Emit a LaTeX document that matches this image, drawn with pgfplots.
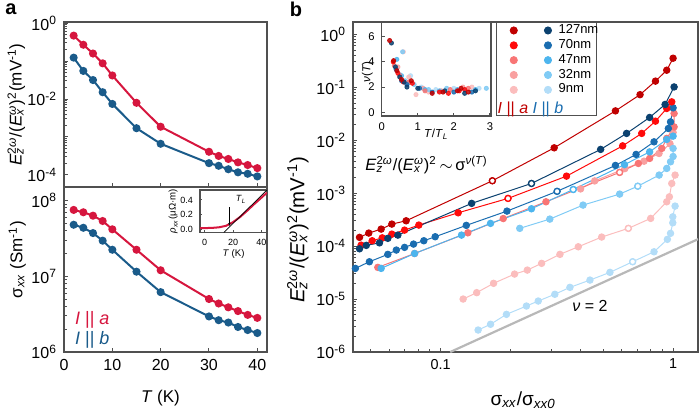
\documentclass[border=0pt]{standalone}
\usepackage{pgfplots}
\pgfplotsset{compat=1.18}
\usepackage{fontspec}
\setmainfont{Liberation Sans}
\usetikzlibrary{arrows.meta}

\definecolor{aRed}{HTML}{D6163E}
\definecolor{aBlue}{HTML}{1A5B8A}
\definecolor{rA}{HTML}{C00000}
\definecolor{rB}{HTML}{FF0A0A}
\definecolor{rC}{HTML}{F87575}
\definecolor{rD}{HTML}{F9A0A0}
\definecolor{rE}{HTML}{FBBDBD}
\definecolor{bA}{HTML}{0B416F}
\definecolor{bB}{HTML}{1A6DB0}
\definecolor{bC}{HTML}{4DB5EE}
\definecolor{bD}{HTML}{80CBF5}
\definecolor{bE}{HTML}{B3DDF8}
\definecolor{frm}{HTML}{505050}

\newcommand\fs[1]{\fontsize{#1}{#1}\selectfont}
% superscript stacked over subscript
\newcommand\supsub[2]{\setbox0=\hbox{\textsuperscript{#1}}\setbox2=\hbox{\textsubscript{#2}}%
 \ifdim\wd0>\wd2 \rlap{\box2}\box0\else\rlap{\box0}\box2\fi}

\pgfplotsset{
 base/.style={scale only axis, anchor=south west,
  axis line style={frm, line width=0.6pt},
  tick style={frm, line width=0.5pt},
  major tick length=2.2pt, minor tick length=1.4pt,
  tick align=inside, tick pos=left,
  tick label style={font=\fs{8}},
  label style={font=\fs{8.5}},
  /pgf/number format/assume math mode=true},
 pa/.style={line width=1pt, mark=*, mark size=1.5pt},
 pb/.style={line width=0.5pt, mark=*, mark size=1.6pt},
 ob/.style={only marks, mark=*, mark size=1.45pt, mark options={fill=white, draw=#1, line width=0.6pt}},
 sc/.style={only marks, mark=*, mark size=1.05pt, opacity=0.85, color=#1},
}

\begin{document}
\begin{tikzpicture}[x=1pt,y=1pt]
\useasboundingbox (0,0) rectangle (350,206);
\node[font=\bfseries\fs{10}] at (5.5,201.5) {a};
\node[font=\bfseries\fs{10}] at (148,201.5) {b};

% ---- panel a, top
\begin{axis}[base, at={(32pt,112.5pt)}, width=101.5pt, height=82.5pt,
 ymode=log, xmin=0, xmax=42, ymin=4.8e-5, ymax=1.07,
 xtick={10,20,30,40}, xticklabels={},
 ytick={1e-4,1e-3,1e-2,1e-1,1},
 yticklabels={10\textsuperscript{-4},,10\textsuperscript{-2},,10\textsuperscript{0}},
 ylabel={\textit{E}\supsub{2\textit{ω}}{\textit{z}}/(\textit{E}\supsub{\textit{ω}}{\textit{x}})\textsuperscript{2}(mV\textsuperscript{-1})},
 ylabel style={at={(axis description cs:-0.235,0.5)}, anchor=center}]
\addplot[pa, color=aRed] coordinates {(2,0.468) (4,0.269) (6,0.158) (8,0.0871) (10,0.0417) (15,0.00794) (20,0.00186) (30,0.000407) (32,0.000316) (34,0.000263) (36,0.000214) (38,0.000182) (40,0.000151)};
\addplot[pa, color=aBlue] coordinates {(2,0.123) (4,0.055) (6,0.0316) (8,0.0151) (10,0.00741) (15,0.0017) (20,0.000661) (30,0.000204) (32,0.000174) (34,0.000141) (36,0.000117) (38,0.000107) (40,0.0000912)};
\end{axis}

% ---- panel a, bottom
\begin{axis}[base, at={(32pt,30pt)}, width=101.5pt, height=82.5pt,
 ymode=log, xmin=0, xmax=42, ymin=1e6, ymax=1.51e8,
 xtick={0,10,20,30,40},
 ytick={1e6,1e7,1e8},
 yticklabels={10\textsuperscript{6},10\textsuperscript{7},10\textsuperscript{8}},
 xlabel={\textit{T} (K)},
 xlabel style={at={(axis description cs:0.475,-0.28)}, anchor=center},
 ylabel={σ\textsubscript{\textit{xx}} (Sm\textsuperscript{-1})},
 ylabel style={at={(axis description cs:-0.23,0.56)}, anchor=center}]
\addplot[pa, color=aRed] coordinates {(2,7.52e7) (4,7.0e7) (6,6.31e7) (8,5.37e7) (10,4.17e7) (15,2.24e7) (20,1.20e7) (30,5.01e6) (32,4.37e6) (34,3.89e6) (36,3.47e6) (38,3.09e6) (40,2.82e6)};
\addplot[pa, color=aBlue] coordinates {(2,4.79e7) (4,4.37e7) (6,3.72e7) (8,2.95e7) (10,2.24e7) (15,1.15e7) (20,6.17e6) (30,2.95e6) (32,2.63e6) (34,2.45e6) (36,2.14e6) (38,1.95e6) (40,1.78e6)};
\node[anchor=west, font=\fs{9}, color=aRed] at (axis description cs:0.02,0.194) {\textit{I} || \textit{a}};
\node[anchor=west, font=\fs{9}, color=aBlue] at (axis description cs:0.02,0.073) {\textit{I} || \textit{b}};
\end{axis}

% ---- panel a, inset
\begin{axis}[base, at={(100pt,89.75pt)}, width=33.5pt, height=21.25pt,
 axis background/.style={fill=white},
 xmin=-3.3, xmax=44, ymin=-0.04, ymax=0.535,
 major tick length=1.2pt,
 xtick={0,20,40}, ytick={0,0.2,0.4}, yticklabels={0.0,0.2,0.4},
 tick label style={font=\fs{4.5}},
 label style={font=\fs{4.8}},
 xlabel={\textit{T} (K)}, ylabel={\textit{ρ}\textsubscript{\textit{xx}}(μΩ·m)},
 xlabel style={at={(axis description cs:0.5,-0.5)}, anchor=center},
 ylabel style={at={(axis description cs:-0.4,0.5)}, anchor=center}]
\addplot[color=aRed, line width=1pt, no marks] coordinates {(-3.3,0.02) (0,0.02) (5,0.022) (10,0.03) (15,0.05) (20,0.1) (25,0.17) (30,0.255) (35,0.345) (40,0.43) (44,0.5)};
\addplot[color=black, line width=0.35pt, no marks] coordinates {(13.5,-0.04) (44,0.535)};
\draw[-{Stealth[length=1.4pt,width=1.2pt]}, line width=0.3pt] (axis cs:17.5,0.30) -- (axis cs:17.5,0.05);
\node[font=\fs{4.5}, anchor=west] at (axis cs:17,0.41) {\textit{T}\textsubscript{\textit{L}}};
\end{axis}

% ---- panel b
\begin{axis}[base, at={(176.5pt,30pt)}, width=172.5pt, height=165pt,
 xmode=log, ymode=log, xmin=0.042, xmax=1.28, ymin=1e-6, ymax=1.7,
 xtick={0.1,1}, xticklabels={0.1,1},
 minor xtick={0.05,0.06,0.07,0.08,0.09,0.2,0.3,0.4,0.5,0.6,0.7,0.8,0.9},
 xticklabel style={font=\fs{7.2}},
 ytick={1e-6,1e-5,1e-4,1e-3,1e-2,1e-1,1},
 yticklabels={10\textsuperscript{-6},10\textsuperscript{-5},10\textsuperscript{-4},10\textsuperscript{-3},10\textsuperscript{-2},10\textsuperscript{-1},10\textsuperscript{0}},
 xlabel={σ\textsubscript{\textit{xx}}/σ\textsubscript{\textit{xx0}}},
 xlabel style={at={(axis description cs:0.493,-0.145)}, anchor=center, font=\fs{9.5}},
 ylabel={\textit{E}\supsub{2\textit{ω}}{\textit{z}}/(\textit{E}\supsub{\textit{ω}}{\textit{x}})\textsuperscript{2}(mV\textsuperscript{-1})},
 ylabel style={at={(axis description cs:-0.16,0.37)}, anchor=center, font=\fs{10.2}},
 legend columns=2,
 legend style={at={(axis description cs:0.437,1.012)}, anchor=north west, draw=none, fill=none,
  font=\fs{6.5}, row sep=-0.6pt, nodes={inner sep=1pt},
  /tikz/every even column/.append style={column sep=9pt},
  /tikz/every odd column/.append style={column sep=2.5pt}},
 legend image code/.code={\draw[mark repeat=2,mark phase=2,#1] plot coordinates {(0pt,0pt) (3pt,0pt) (6pt,0pt)};},
 legend cell align=left]
\addlegendimage{only marks, mark=*, mark size=1.8pt, color=rA}\addlegendentry{\mbox{}}
\addlegendimage{only marks, mark=*, mark size=1.8pt, color=bA}\addlegendentry{127nm}
\addlegendimage{only marks, mark=*, mark size=1.8pt, color=rB}\addlegendentry{\mbox{}}
\addlegendimage{only marks, mark=*, mark size=1.8pt, color=bB}\addlegendentry{70nm}
\addlegendimage{only marks, mark=*, mark size=1.8pt, color=rC}\addlegendentry{\mbox{}}
\addlegendimage{only marks, mark=*, mark size=1.8pt, color=bC}\addlegendentry{47nm}
\addlegendimage{only marks, mark=*, mark size=1.8pt, color=rD}\addlegendentry{\mbox{}}
\addlegendimage{only marks, mark=*, mark size=1.8pt, color=bD}\addlegendentry{32nm}
\addlegendimage{only marks, mark=*, mark size=1.8pt, color=rE}\addlegendentry{\mbox{}}
\addlegendimage{only marks, mark=*, mark size=1.8pt, color=bE}\addlegendentry{9nm}

% nu = 2 guide
\addplot[color=black!28, line width=1.1pt, no marks] coordinates {(0.110,1e-6) (1.28,1.35e-4)};

% 9 nm
\addplot[pb, color=rE] coordinates {(0.125,1.0e-5) (0.143,1.32e-5) (0.169,1.98e-5) (0.208,2.96e-5) (0.236,3.52e-5) (0.272,4.72e-5) (0.326,6.97e-5) (0.391,9.7e-5) (0.493,1.48e-4) (0.642,2.16e-4) (0.801,3.33e-4) (0.939,6.86e-4) (0.964,8.51e-4) (0.987,1.52e-3) (1.02,2.19e-3)};
\addplot[ob=rE] coordinates {(0.642,2.16e-4)};
\addplot[pb, color=bE] coordinates {(0.145,2.6e-6) (0.164,3.34e-6) (0.192,5.14e-6) (0.234,7.38e-6) (0.263,9.17e-6) (0.310,1.23e-5) (0.360,1.66e-5) (0.439,2.28e-5) (0.535,3.19e-5) (0.670,5.06e-5) (0.828,7.8e-5) (0.945,1.34e-4) (0.975,1.74e-4) (0.997,2.75e-4) (0.997,3.57e-4) (1.02,5.69e-4)};
\addplot[ob=bE] coordinates {(0.670,5.06e-5)};
% 32 nm
\addplot[pb, color=rD] coordinates {(0.40,1.2e-3) (0.46,1.7e-3) (0.62,2.9e-3) (0.75,4.0e-3) (0.87,5.6e-3) (0.97,8.5e-3) (1.0,1.4e-2)};
\addplot[pb, color=bD] coordinates {(0.219,2.16e-4) (0.295,3.23e-4) (0.410,5.94e-4) (0.589,9.58e-4) (0.705,1.35e-3) (0.871,2.19e-3) (0.939,2.92e-3) (0.975,3.9e-3) (1.0,4.91e-3) (1.0,6.97e-3)};
\addplot[ob=bD] coordinates {(0.705,1.35e-3)};
% 47 nm
\addplot[pb, color=rC] coordinates {(0.0537,3.96e-5) (0.0773,7.24e-5) (0.131,1.78e-4) (0.186,3.31e-4) (0.284,6.86e-4) (0.589,2.46e-3) (0.709,3.63e-3) (0.793,4.52e-3) (0.894,6.97e-3) (0.939,1.08e-2) (1.01,1.78e-2) (1.01,3.19e-2)};
\addplot[ob=rC] coordinates {(0.589,2.46e-3)};
\addplot[pb, color=bC] coordinates {(0.0555,3.79e-5) (0.0773,7.24e-5) (0.123,1.61e-4) (0.164,2.68e-4) (0.246,5.06e-4) (0.372,1.17e-3) (0.618,3.45e-3) (0.793,6.01e-3) (0.939,1.03e-2) (1.0,1.19e-2)};
\addplot[ob=bC] coordinates {(0.372,1.17e-3)};
% 70 nm
\addplot[pb, color=bB] coordinates {(0.0430,3.79e-5) (0.0494,5.06e-5) (0.0593,6.97e-5) (0.0645,8.41e-5) (0.0700,9.45e-5) (0.0765,1.09e-4) (0.0847,1.26e-4) (0.0948,1.50e-4) (0.129,2.46e-4) (0.193,4.57e-4) (0.317,1.08e-3) (0.565,3.33e-3) (0.693,5.37e-3) (0.828,9.29e-3) (0.954,1.66e-2) (0.975,2.21e-2) (1.0,4.07e-2)};
\addplot[ob=bB] coordinates {(0.317,1.08e-3)};
\addplot[pb, color=rB] coordinates {(0.0455,1.04e-4) (0.0508,1.26e-4) (0.0561,1.43e-4) (0.0617,1.68e-4) (0.0700,2.0e-4) (0.0806,2.49e-4) (0.119,4.25e-4) (0.195,7.94e-4) (0.348,2.09e-3) (0.607,7.8e-3) (0.733,1.34e-2) (0.84,2.28e-2) (0.939,3.96e-2) (0.987,5.28e-2)};
\addplot[ob=rB] coordinates {(0.195,7.94e-4)};
% 127 nm
\addplot[pb, color=bA] coordinates {(0.0448,8.89e-5) (0.0479,1.03e-4) (0.0546,1.15e-4) (0.0593,1.40e-4) (0.0655,1.61e-4) (0.136,6.4e-4) (0.246,1.52e-3) (0.488,6.68e-3) (0.631,1.34e-2) (0.793,2.68e-2) (0.924,4.72e-2) (1.01,0.101)};
\addplot[ob=bA] coordinates {(0.246,1.52e-3)};
\addplot[pb, color=rA] coordinates {(0.0448,1.46e-4) (0.0491,1.76e-4) (0.0555,2.09e-4) (0.0617,2.6e-4) (0.0711,3.0e-4) (0.167,1.71e-3) (0.308,7.16e-3) (0.565,3.57e-2) (0.721,7.22e-2) (0.84,0.13) (0.939,0.209) (1.0,0.352)};
\addplot[ob=rA] coordinates {(0.167,1.71e-3)};

\draw[frm, line width=0.5pt] (axis description cs:0.4145,1) rectangle (axis description cs:0.707,0.718);
\node[anchor=west, font=\fs{8}, inner sep=0pt] at (axis description cs:0.418,0.735) {\color{rA}\textit{I} || \textit{a} \color{bB}\textit{I} || \textit{b}};
\node[anchor=west, inner sep=0pt, font=\fs{8.2}] at (axis description cs:0.035,0.567) {\textit{E}\supsub{2\textit{ω}}{\textit{z}}/(\textit{E}\supsub{\textit{ω}}{\textit{x}})\textsuperscript{2}\,$\sim$\,σ\textsuperscript{\textit{ν}(\textit{T})}};
\node[font=\fs{8}] at (axis description cs:0.687,0.139) {\textit{ν} = 2};
\end{axis}

% ---- panel b, inset
\begin{axis}[base, at={(190.85pt,148pt)}, width=54.65pt, height=47pt,
 axis background/.style={fill=white},
 xmin=0, xmax=3.03, ymin=-0.3, ymax=7.17,
 major tick length=1.5pt,
 xtick={0,1,2,3}, ytick={0,2,4,6},
 tick label style={font=\fs{5.6}},
 label style={font=\fs{5.8}},
 xlabel={\textit{T}/\textit{T}\textsubscript{\textit{L}}}, ylabel={\textit{ν}(\textit{T})},
 xlabel style={at={(axis description cs:0.5,-0.2)}, anchor=center},
 ylabel style={at={(axis description cs:-0.13,0.47)}, anchor=center}]
\addplot[sc=bE] coordinates {(0.8,2.9) (1.1,2.0) (1.5,1.8) (2.0,1.9) (2.7,1.9) (0.5,3.0)};
\addplot[sc=rE] coordinates {(0.6,4.8) (0.95,1.4) (1.3,1.6) (2.5,2.0) (0.75,2.8)};
\addplot[sc=bD] coordinates {(0.58,4.8) (0.65,2.5) (0.9,2.2) (1.3,1.8) (1.8,1.9) (2.3,1.8) (2.9,1.9)};
\addplot[sc=rD] coordinates {(0.45,3.6) (0.7,2.2) (1.15,1.9) (1.65,1.7) (2.25,2.0)};
\addplot[sc=bC] coordinates {(0.42,4.2) (0.55,2.9) (0.72,2.3) (1.2,1.8) (1.6,1.7) (2.1,1.8) (2.6,1.8)};
\addplot[sc=rC] coordinates {(0.35,3.7) (0.5,2.9) (0.75,2.4) (1.2,1.7) (1.9,1.8) (2.4,1.9)};
\addplot[sc=bB] coordinates {(0.4,3.4) (0.55,2.5) (0.7,2.2) (1.05,1.9) (1.4,1.6) (2.0,1.6) (2.5,1.6)};
\addplot[sc=rB] coordinates {(0.32,4.0) (0.45,3.1) (0.6,2.4) (0.85,2.3) (1.6,1.6) (1.85,1.5) (2.15,1.7) (2.3,1.8)};
\addplot[sc=bA] coordinates {(0.27,5.5) (0.38,3.6) (0.5,2.8) (0.62,2.4) (0.7,2.0) (1.0,1.9) (1.75,1.7) (2.3,1.5) (2.6,1.7)};
\addplot[sc=rA] coordinates {(0.22,5.7) (0.33,4.1) (0.42,3.3) (0.55,2.6) (0.82,2.5) (1.4,1.5) (1.7,1.6) (2.1,1.7) (2.2,1.9) (2.4,1.6)};
\end{axis}
\end{tikzpicture}
\end{document}
